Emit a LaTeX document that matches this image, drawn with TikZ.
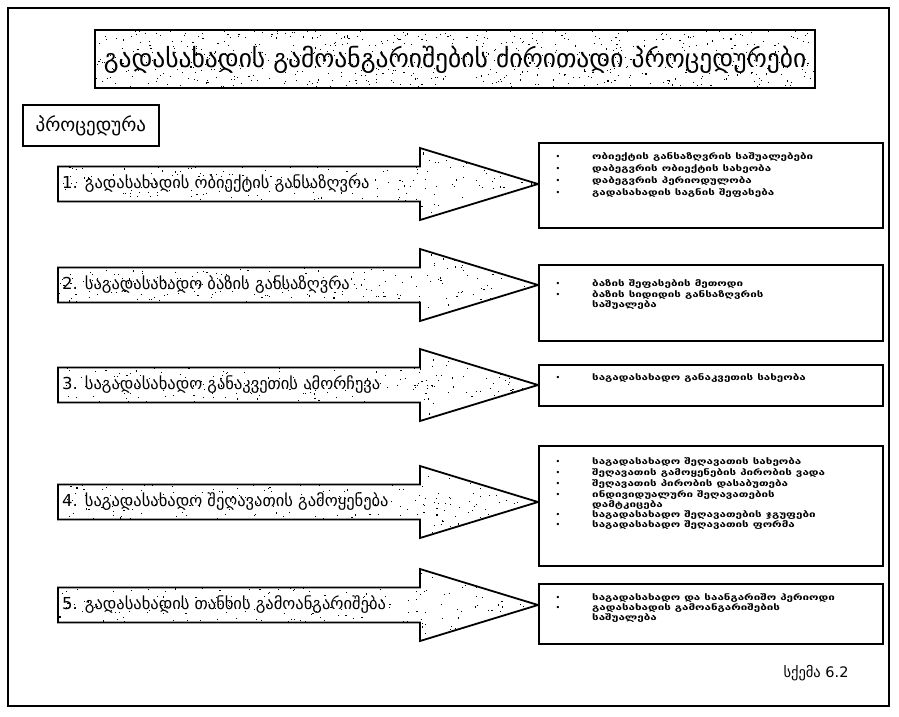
\documentclass[tikz,border=0pt]{standalone}
\usepackage{fontspec}
\setmainfont{DejaVu Sans}
\newfontfamily\itemfont[FakeStretch=1.4]{DejaVu Sans Bold}
\newcommand\specklefill[5]{%
  \foreach \k in {1,...,#5}{\fill ({#1+rnd*#3},{#2+rnd*#4}) rectangle ++(1.1,1.1);}}
\newcommand\arrowpath[1]{(58,#1-17.5) -- (420,#1-17.5) -- (420,#1-36) -- (538,#1) -- (420,#1+36) -- (420,#1+17.5) -- (58,#1+17.5) -- cycle}
\begin{document}
\begin{tikzpicture}[x=1pt,y=-1pt,
  frame/.style={draw=black,line width=1.5pt},
  boxline/.style={draw=black,line width=1.8pt},
  arrowtext/.style={anchor=west,inner sep=0pt,font=\fontsize{16.5}{18}\selectfont},
  bul/.style={inner sep=0pt,font=\fontsize{8}{9}\selectfont},
  itemtext/.style={anchor=west,inner sep=0pt,font=\itemfont\fontsize{8.3}{9}\selectfont},
  infobox/.style={boxline,fill=white,inner sep=0pt,anchor=north west}]
\useasboundingbox (0,0) rectangle (899,716);
\fill[white] (0,0) rectangle (899,716);
\pgfmathsetseed{7}
% outer frame
\draw[frame] (8,8) rectangle (889,706);
% title
\draw[boxline,fill=white] (95,30) rectangle (815,88);
\begin{scope}
  \clip (95,30) rectangle (815,88);
  \specklefill{95}{30}{720}{58}{650}
\end{scope}
\node (title) at (455,60) [inner sep=0pt,font=\fontsize{25.5}{28}\selectfont]
  {გადასახადის გამოანგარიშების ძირითადი პროცედურები};
% procedure label
\node (proc) at (22,104) [boxline,anchor=north west,minimum width=136,minimum height=41,inner sep=0pt] {};
\node (proctext) at (proc.center) [inner sep=0pt,font=\fontsize{19}{21}\selectfont] {პროცედურა};
% arrows
\foreach \cy [count=\n] in {184,285,385,502,605}{
  \draw[boxline,fill=white,line join=miter] \arrowpath{\cy};
  \begin{scope}
    \clip \arrowpath{\cy};
    \specklefill{58}{\cy-36}{480}{72}{360}
  \end{scope}
}
\node (a1) at (62,184) [arrowtext] {1. გადასახადის ობიექტის განსაზღვრა};
\node (a2) at (62,285) [arrowtext] {2. საგადასახადო ბაზის განსაზღვრა};
\node (a3) at (62,385) [arrowtext] {3. საგადასახადო განაკვეთის ამორჩევა};
\node (a4) at (62,502) [arrowtext] {4. საგადასახადო შეღავათის გამოყენება};
\node (a5) at (62,605) [arrowtext] {5. გადასახადის თანხის გამოანგარიშება};
% boxes
\node (b1) at (538,142) [infobox,minimum width=344,minimum height=85] {};
\node (b2) at (538,264) [infobox,minimum width=344,minimum height=76] {};
\node (b3) at (538,364) [infobox,minimum width=344,minimum height=41] {};
\node (b4) at (538,445) [infobox,minimum width=344,minimum height=120] {};
\node (b5) at (538,583) [infobox,minimum width=344,minimum height=60] {};
% box 1 items
\node (d11) at (558,157) [bul] {•};
\node (t11) at (592,157) [itemtext] {ობიექტის განსაზღვრის საშუალებები};
\node (d12) at (558,169) [bul] {•};
\node (t12) at (592,169) [itemtext] {დაბეგვრის ობიექტის სახეობა};
\node (d13) at (558,181) [bul] {•};
\node (t13) at (592,181) [itemtext] {დაბეგვრის პერიოდულობა};
\node (d14) at (558,193) [bul] {•};
\node (t14) at (592,193) [itemtext] {გადასახადის საგნის შეფასება};
% box 2 items
\node (d21) at (558,284) [bul] {•};
\node (t21) at (592,284) [itemtext] {ბაზის შეფასების მეთოდი};
\node (d22) at (558,295) [bul] {•};
\node (t22) at (592,295) [itemtext] {ბაზის სიდიდის განსაზღვრის};
\node (t22b) at (592,305.5) [itemtext] {საშუალება};
% box 3 items
\node (d31) at (558,378) [bul] {•};
\node (t31) at (592,378) [itemtext] {საგადასახადო განაკვეთის სახეობა};
% box 4 items
\node (d41) at (558,462) [bul] {•};
\node (t41) at (592,462) [itemtext] {საგადასახადო შეღავათის სახეობა};
\node (d42) at (558,473) [bul] {•};
\node (t42) at (592,473) [itemtext] {შეღავათის გამოყენების პირობის ვადა};
\node (d43) at (558,484) [bul] {•};
\node (t43) at (592,484) [itemtext] {შეღავათის პირობის დასაბუთება};
\node (d44) at (558,495) [bul] {•};
\node (t44) at (592,495) [itemtext] {ინდივიდუალური შეღავათების};
\node (t44b) at (592,505) [itemtext] {დამტკიცება};
\node (d45) at (558,515) [bul] {•};
\node (t45) at (592,515) [itemtext] {საგადასახადო შეღავათების ჯგუფები};
\node (d46) at (558,525.5) [bul] {•};
\node (t46) at (592,525.5) [itemtext] {საგადასახადო შეღავათის ფორმა};
% box 5 items
\node (d51) at (558,598) [bul] {•};
\node (t51) at (592,598) [itemtext] {საგადასახადო და საანგარიშო პერიოდი};
\node (d52) at (558,608) [bul] {•};
\node (t52) at (592,608) [itemtext] {გადასახადის გამოანგარიშების};
\node (t52b) at (592,618) [itemtext] {საშუალება};
% caption
\node (cap) at (816,673) [inner sep=0pt,font=\fontsize{14.5}{16}\selectfont] {სქემა 6.2};
\end{tikzpicture}
\end{document}
